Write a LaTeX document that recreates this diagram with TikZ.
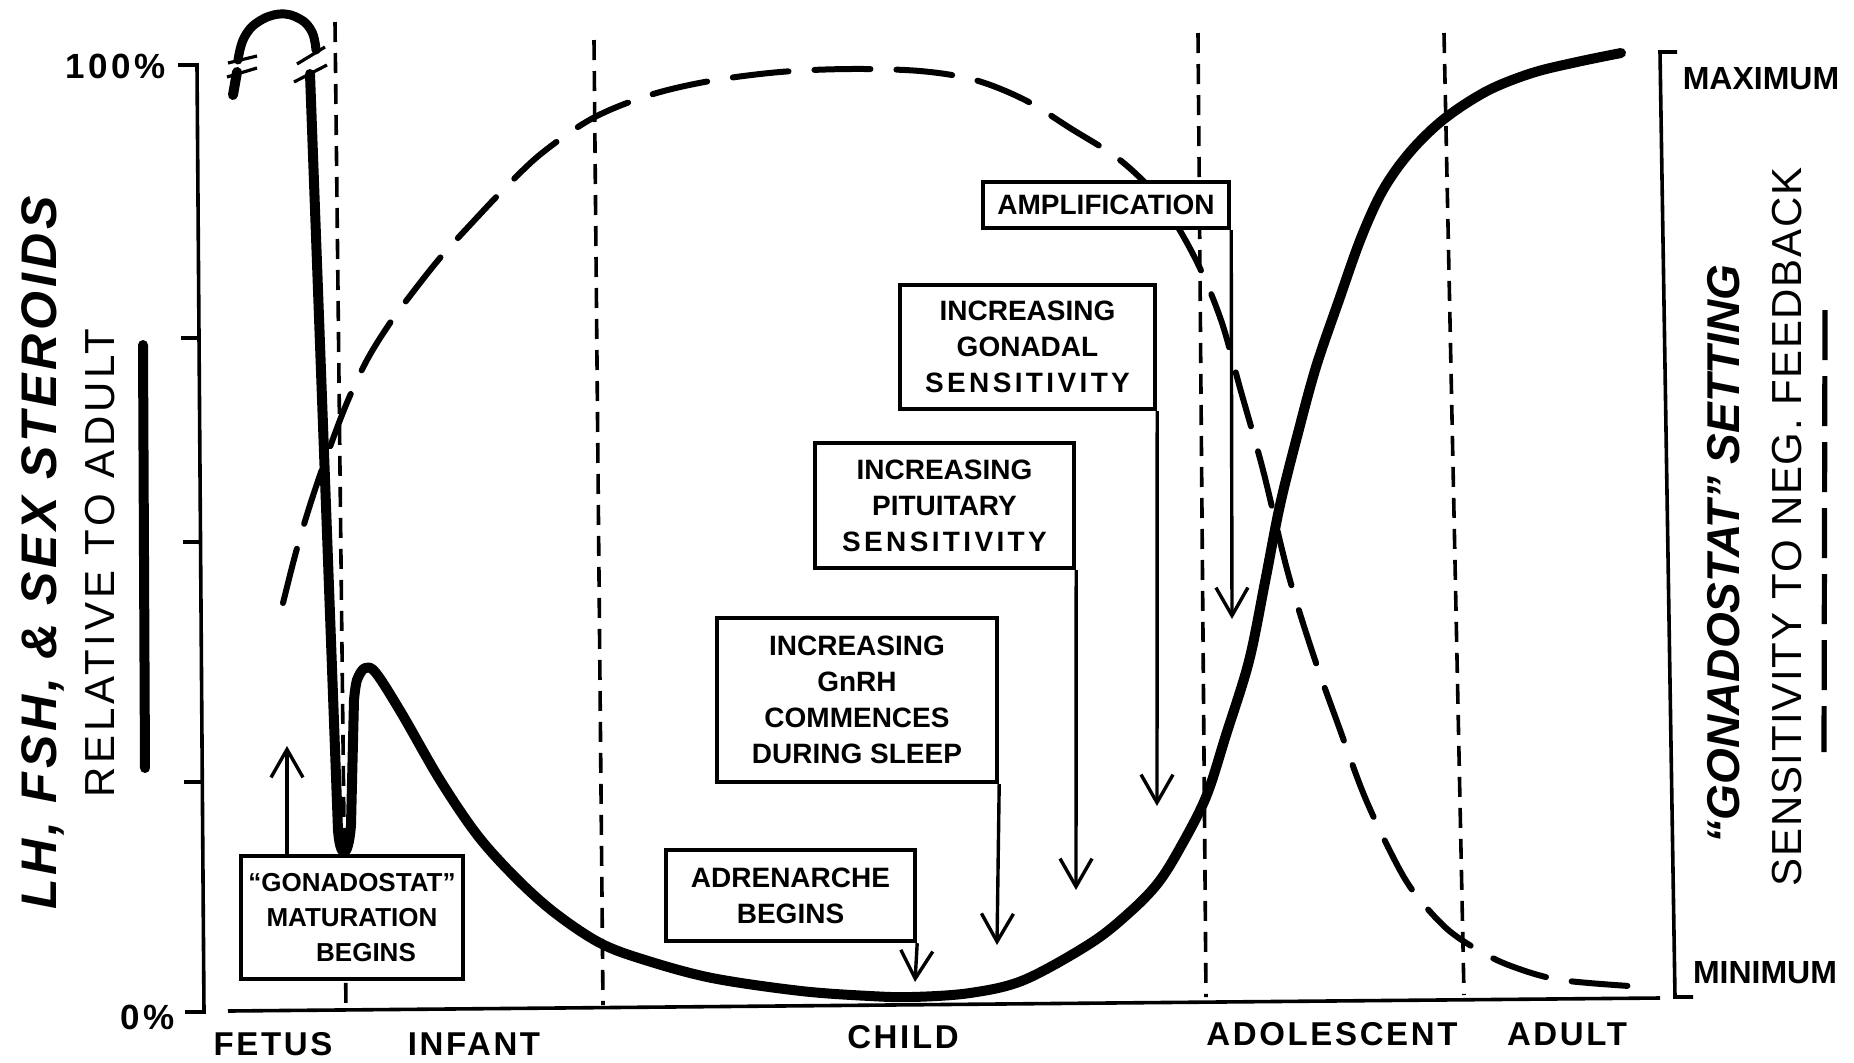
\documentclass[tikz,border=0pt]{standalone}
\usepackage{fontspec}
\setmainfont{Liberation Sans}
\usetikzlibrary{arrows.meta}
\newcommand\bxfont{\fontsize{14pt}{18pt}\selectfont\bfseries}
\newcommand\bxfontsm{\fontsize{13pt}{17.5pt}\selectfont\bfseries}
\newcommand\catfont{\fontsize{16.5pt}{18pt}\selectfont\bfseries\addfontfeature{LetterSpace=8}}
\newcommand\pctfont{\fontsize{17.5pt}{20pt}\selectfont\bfseries\addfontfeature{LetterSpace=10}}
\newcommand\mmfont{\fontsize{16pt}{18pt}\selectfont\bfseries}
\newcommand\ssp[1]{{\addfontfeature{LetterSpace=12}#1}}
\newcommand\ylaba{\fontsize{25pt}{28pt}\selectfont\bfseries\itshape\addfontfeature{LetterSpace=8}}
\newcommand\ylabb{\fontsize{21pt}{24pt}\selectfont\addfontfeature{LetterSpace=9}}
\newcommand\rlaba{\fontsize{23pt}{26pt}\selectfont\bfseries\itshape}
\newcommand\rlabb{\fontsize{21pt}{24pt}\selectfont\addfontfeature{LetterSpace=4}}
\begin{document}
\begin{tikzpicture}[x=0.5pt,y=-0.5pt,
  solidc/.style={line width=5pt, line cap=round, line join=round},
  dashc/.style={line width=3pt, line cap=round, dash pattern=on 28pt off 13pt},
  vdash/.style={line width=1.8pt, dash pattern=on 10pt off 5.5pt},
  axisl/.style={line width=1.8pt},
  brk/.style={line width=1.6pt},
  boxst/.style={draw, fill=white, line width=2.2pt, inner sep=0pt, align=center, font=\bxfont},
  arr/.style={line width=1.7pt, -{Straight Barb[length=14pt,width=16pt]}},
  lbl/.style={inner sep=0pt}
]
\useasboundingbox (0,0) rectangle (1854,1062);

% axes
\draw[axisl] (178,65) -- (197,65) -- (204,1012) -- (185,1012);
\draw[axisl] (181,338) -- (199,338);
\draw[axisl] (183,542) -- (201,542);
\draw[axisl] (184,782) -- (202,782);
\draw[axisl] (228,1011) -- (1660,998);
\draw[axisl] (1677,52) -- (1660,52) -- (1675,997) -- (1693,997);

% legend bars
\draw[line width=5pt, line cap=round] (143,345) -- (145,768);
\draw[line width=2.6pt, dash pattern=on 25pt off 8pt] (1825,310) -- (1824,752);

% vertical dashed period lines
\draw[vdash] (335,22) -- (346,1008);
\draw[vdash] (594,40) -- (603,1005);
\draw[vdash] (1198,33) -- (1206,997);
\draw[vdash] (1444,33) -- (1464,995);

% dashed gonadostat curve
\draw[dashc] plot[smooth, tension=0.55] coordinates {
 (283,603) (296,552) (310,505) (326,458) (346,405) (367,360) (390,323)
 (413,292) (440,258) (470,225) (505,188) (542,153) (593,118) (650,95)
 (710,81) (780,72) (850,69) (920,71) (975,80) (1025,100) (1070,128)
 (1120,160) (1160,200) (1195,258) (1221,320) (1240,388) (1263,470)
 (1288,573) (1314,657) (1339,727) (1364,795) (1391,853) (1413,891)
 (1446,928) (1478,950) (1511,966) (1561,980) (1645,987)};

% fetal part of solid curve
\draw[solidc] (233,95) -- (237,72);
\draw[brk] (228,63) -- (257,56);
\draw[brk] (227,77) -- (257,68);
\draw[solidc, line width=4.5pt] plot[smooth, tension=0.7] coordinates {
 (238,60) (244,38) (258,22) (280,14) (300,19) (312,32) (316,50)};
\draw[brk] (297,64) -- (325,47);
\draw[brk] (294,82) -- (327,65);

% main solid curve
\draw[solidc] (310,74) -- (338,830) .. controls (340,858) and (348,862) .. (351,825)
 -- (354,700) -- plot[smooth, tension=0.55] coordinates {
 (354,700) (357,680) (365,668) (376,673) (402,714) (440,780) (478,836)
 (517,879) (555,913) (600,943) (645,960) (712,978) (801,991) (870,996)
 (912,997) (970,993) (1024,980) (1091,943) (1130,912) (1158,883)
 (1180,848) (1206,797) (1226,735) (1249,661) (1265,582) (1280,505)
 (1298,433) (1316,367) (1339,300) (1361,238) (1383,190) (1410,152)
 (1444,119) (1487,91) (1532,73) (1577,62) (1621,53)};

% boxes
\node[boxst, font=\bxfontsm, minimum width=111pt, minimum height=61.5pt] (b1) at (352,917.5)
 {``GONADOSTAT''\\MATURATION\\\hspace*{14pt}BEGINS};
\node[boxst, minimum width=124.5pt, minimum height=45.5pt] (b2) at (790.5,895.5)
 {ADRENARCHE\\BEGINS};
\node[boxst, minimum width=140pt, minimum height=82pt] (b3) at (857,700)
 {INCREASING\\GnRH\\COMMENCES\\DURING SLEEP};
\node[boxst, minimum width=129.5pt, minimum height=62.5pt] (b4) at (944.5,505.5)
 {INCREASING\\PITUITARY\\\ssp{SENSITIVITY}};
\node[boxst, minimum width=127.5pt, minimum height=62pt] (b5) at (1027.5,347)
 {INCREASING\\GONADAL\\\ssp{SENSITIVITY}};
\node[boxst, minimum width=123pt, minimum height=23pt] (b6) at (1106,205)
 {AMPLIFICATION};

% arrow tips
\coordinate (t1) at (287,746);
\coordinate (t2) at (915,982);
\coordinate (t3) at (997,945);
\coordinate (t4) at (1076,890);
\coordinate (t5) at (1157,806);
\coordinate (t6) at (1232,619);

\draw[arr] (b1.north -| t1) -- (t1);
\draw[arr] (b2.south east) -- (t2);
\draw[arr] (b3.south east) -- (t3);
\draw[arr] (b4.south east) -- (t4);
\draw[arr] (b5.south east) -- (t5);
\draw[arr] (b6.south east) -- (t6);

% axis value labels
\node[lbl, anchor=east, font=\pctfont] (p100) at (166,66) {100\%};
\node[lbl, anchor=east, font=\pctfont] (p0) at (175,1017) {0\%};
\node[lbl, font=\mmfont] (max) at (1761,79) {MAXIMUM};
\node[lbl, font=\mmfont] (min) at (1765,973) {MINIMUM};

% period labels
\node[lbl, font=\catfont] (fetus) at (273,1044) {FETUS};
\node[lbl, font=\catfont] (infant) at (474,1044) {INFANT};
\node[lbl, font=\catfont] (child) at (903,1037) {CHILD};
\node[lbl, font=\catfont] (adol) at (1332,1034) {ADOLESCENT};
\node[lbl, font=\catfont] (adult) at (1567,1034) {ADULT};

% axis titles
\node[lbl, rotate=90, font=\ylaba] (yla) at (43,553) {LH, FSH, \& SEX STEROIDS};
\node[lbl, rotate=90, font=\ylabb] (ylb) at (100,563) {RELATIVE TO ADULT};
\node[lbl, rotate=90, font=\rlaba] (rla) at (1724,554) {``GONADOSTAT'' SETTING};
\node[lbl, rotate=90, font=\rlabb] (rlb) at (1787,527) {SENSITIVITY TO NEG. FEEDBACK};
\end{tikzpicture}
\end{document}
